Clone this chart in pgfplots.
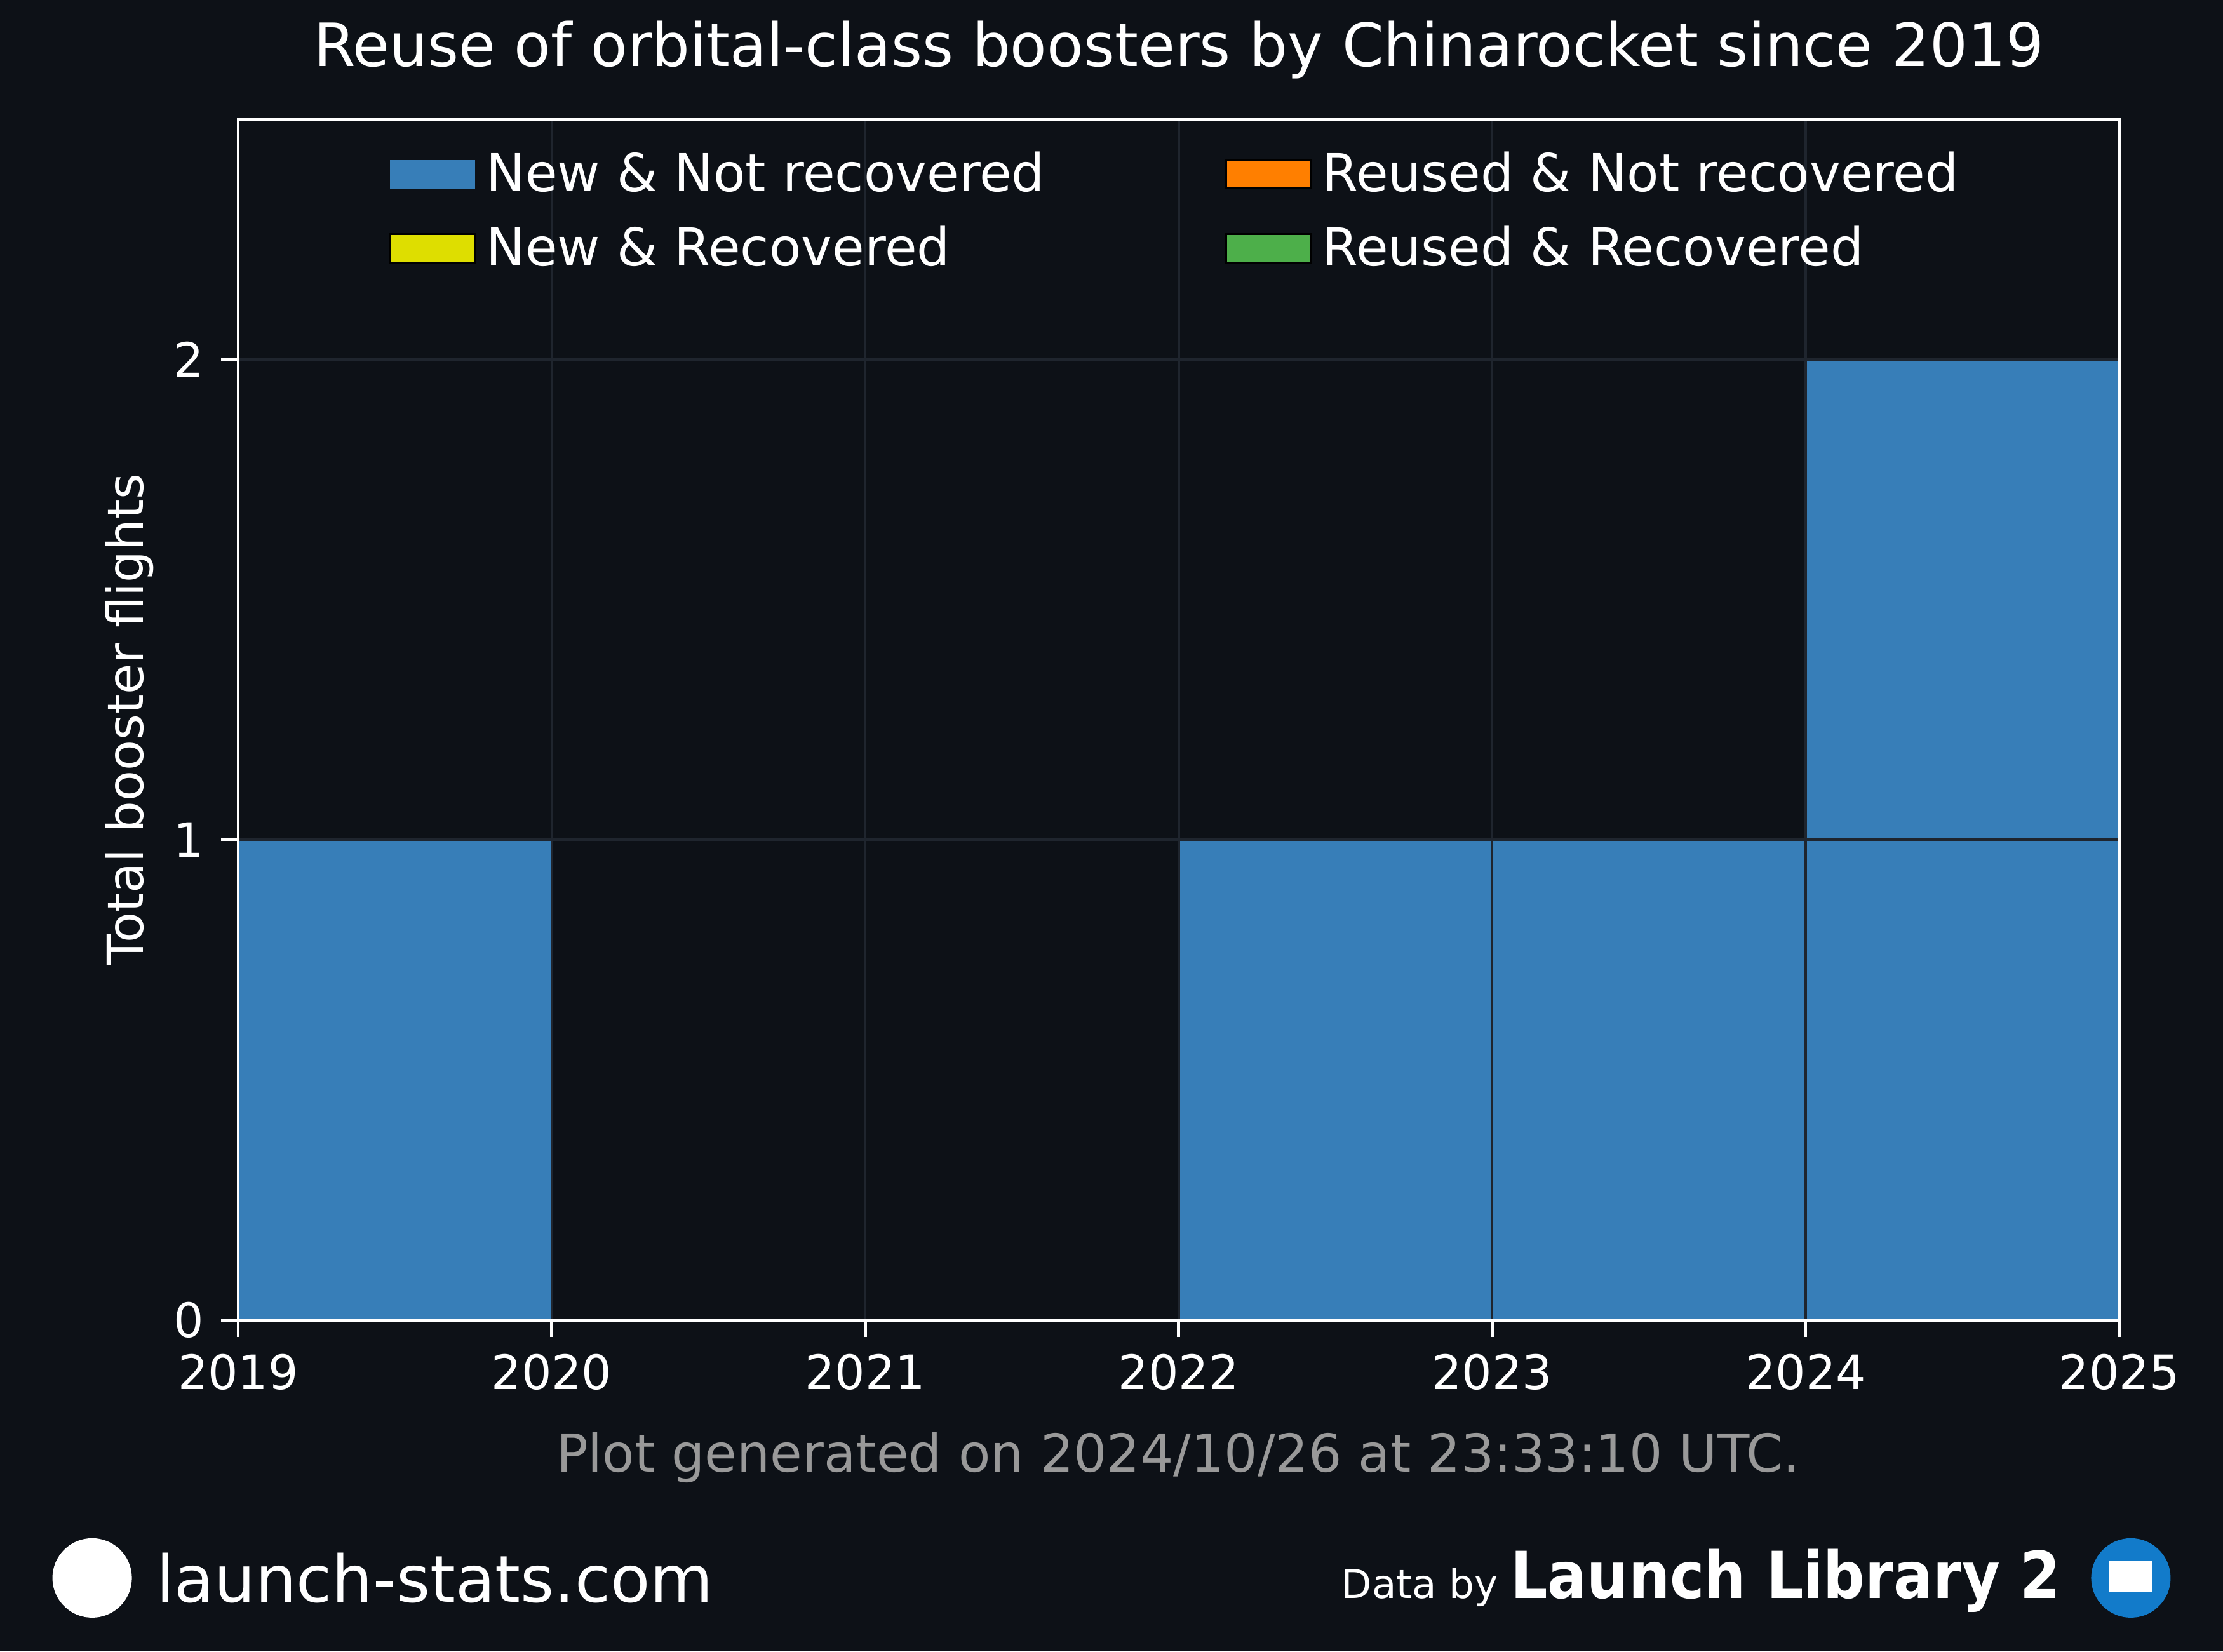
\documentclass[border=0pt]{standalone}
\usepackage{pgfplots}
\pgfplotsset{compat=1.18}
\usepackage{fontspec}
\setmainfont{DejaVu Sans}
\newfontfamily\condbold{DejaVu Sans Condensed}
\definecolor{bg}{HTML}{0D1117}
\definecolor{cblue}{HTML}{377EB8}
\definecolor{cyel}{HTML}{DEDE00}
\definecolor{corange}{HTML}{FF7F00}
\definecolor{cgreen}{HTML}{4DAF4A}
\definecolor{gridc}{HTML}{1F252E}
\begin{document}
\begin{tikzpicture}[x=1cm,y=1cm]
\fill[bg] (0,0) rectangle (15.68,11.65);
\begin{axis}[at={(1.68cm,2.34cm)},anchor=origin,
  scale only axis, width=13.27cm, height=8.47cm,
  xmin=2019, xmax=2025, ymin=0, ymax=2.5,
  xtick={2019,...,2025}, ytick={0,1,2},
  xticklabel style={/pgf/number format/1000 sep=},
  /pgf/number format/assume math mode=true,
  tick label style={font=\fontsize{9.5pt}{11pt}\selectfont, text=white},
  axis line style={white, line width=0.6pt},
  tick style={white, line width=0.6pt}, tick align=outside, major tick length=0.12cm,
  xtick pos=bottom, ytick pos=left,
  grid=major, major grid style={gridc, line width=0.5pt},
  axis background/.style={fill=bg},
  ylabel={Total booster flights}, ylabel style={text=white, font=\fontsize{10pt}{12pt}\selectfont, yshift=-0.1cm},
  title={Reuse of orbital-class boosters by Chinarocket since 2019},
  title style={text=white, font=\fontsize{12pt}{14pt}\selectfont, yshift=-0.05cm},
  legend columns=2,
  legend style={draw=none, fill=none, text=white, font=\fontsize{10.5pt}{12pt}\selectfont,
    at={(0.5,0.99)}, anchor=north, /tikz/every even column/.append style={column sep=1.2cm},
    row sep=0.05cm},
  legend image code/.code={\fill[#1] (0cm,-0.09cm) rectangle (0.6cm,0.11cm);},
  legend cell align=left, clip=false, axis on top]
\addplot[const plot, fill=cblue, draw=none] coordinates {(2019,1)(2020,0)(2021,0)(2022,1)(2023,1)(2024,2)(2025,2)} \closedcycle;
\addlegendentry{New \& Not recovered}
\addlegendimage{fill=corange}
\addlegendentry{Reused \& Not recovered}
\addlegendimage{fill=cyel}
\addlegendentry{New \& Recovered}
\addlegendimage{fill=cgreen}
\addlegendentry{Reused \& Recovered}
\end{axis}
\node[text=gray!80, font=\fontsize{10.5pt}{12pt}\selectfont] at (8.31,1.37) {Plot generated on 2024/10/26 at 23:33:10 UTC.};
\fill[white] (0.65,0.52) circle (0.28);
\node[anchor=west, text=white, font=\fontsize{13pt}{15pt}\selectfont] at (0.98,0.52) {launch-stats.com};
\node[anchor=east, text=white] at (14.66,0.5) {{\fontsize{8pt}{10pt}\selectfont Data by }{\condbold\bfseries\fontsize{13pt}{15pt}\selectfont Launch Library 2}};
\fill[cyan!60!blue] (15.03,0.52) circle (0.28);
\fill[white] (14.88,0.42) rectangle (15.18,0.64);
\end{tikzpicture}
\end{document}
